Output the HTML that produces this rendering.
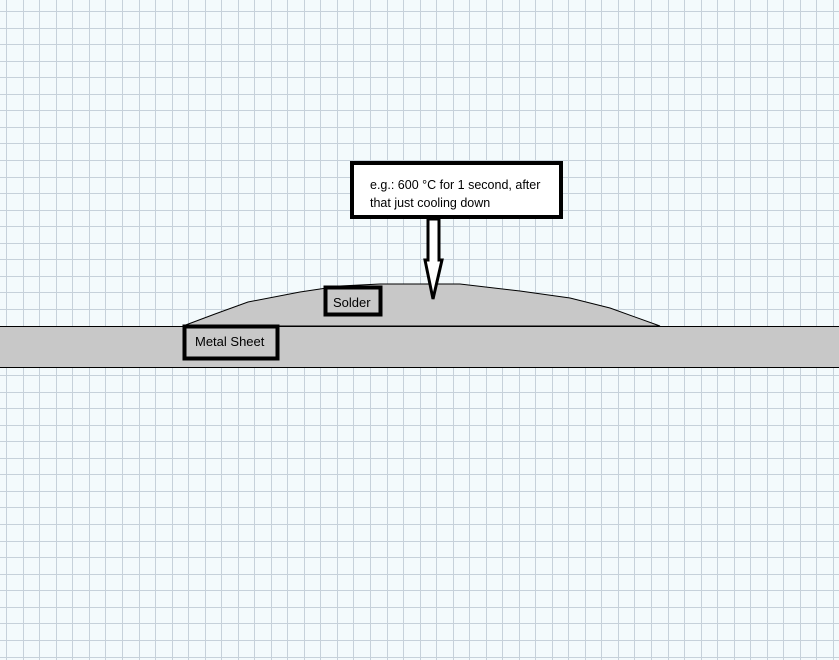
<!DOCTYPE html>
<html><head><style>
html,body{margin:0;padding:0;}
body{width:839px;height:660px;overflow:hidden;background:#f3fafc;position:relative;font-family:"Liberation Sans",sans-serif;}
svg{position:absolute;left:0;top:0;}
</style></head><body>
<svg width="839" height="660" viewBox="0 0 839 660">
<g stroke="#c6d1da" stroke-width="1" fill="none">
<path d="M6.5 0V660M23.5 0V660M39.5 0V660M56.5 0V660M72.5 0V660M89.5 0V660M105.5 0V660M122.5 0V660M139.5 0V660M155.5 0V660M172.5 0V660M188.5 0V660M205.5 0V660M221.5 0V660M238.5 0V660M254.5 0V660M271.5 0V660M287.5 0V660M304.5 0V660M320.5 0V660M337.5 0V660M353.5 0V660M370.5 0V660M387.5 0V660M403.5 0V660M420.5 0V660M436.5 0V660M453.5 0V660M469.5 0V660M486.5 0V660M502.5 0V660M519.5 0V660M535.5 0V660M552.5 0V660M568.5 0V660M585.5 0V660M601.5 0V660M618.5 0V660M634.5 0V660M651.5 0V660M668.5 0V660M684.5 0V660M701.5 0V660M717.5 0V660M734.5 0V660M750.5 0V660M767.5 0V660M783.5 0V660M800.5 0V660M816.5 0V660M833.5 0V660"/>
<path d="M0 11.5H839M0 28.5H839M0 44.5H839M0 61.5H839M0 77.5H839M0 94.5H839M0 110.5H839M0 127.5H839M0 143.5H839M0 160.5H839M0 177.5H839M0 193.5H839M0 210.5H839M0 226.5H839M0 243.5H839M0 259.5H839M0 276.5H839M0 292.5H839M0 309.5H839M0 342.5H839M0 375.5H839M0 392.5H839M0 408.5H839M0 425.5H839M0 441.5H839M0 458.5H839M0 474.5H839M0 491.5H839M0 507.5H839M0 524.5H839M0 541.5H839M0 557.5H839M0 574.5H839M0 590.5H839M0 607.5H839M0 623.5H839M0 640.5H839M0 657.5H839"/>
</g>
<rect x="0" y="326" width="839" height="41" fill="#c8c8c8"/>
<line x1="0" y1="326.5" x2="839" y2="326.5" stroke="#000" stroke-width="1"/>
<line x1="0" y1="367.5" x2="839" y2="367.5" stroke="#000" stroke-width="1"/>
<path d="M183 326 L215 314 L248 302 L300 292 L340 286 L380 284 L460 284 L520 291 L570 298 L610 308 L660 326 Z" fill="#c8c8c8" stroke="#000" stroke-width="1"/>
<line x1="183" y1="326.5" x2="660" y2="326.5" stroke="#000" stroke-width="1"/>
<rect x="184.5" y="326.5" width="93" height="32" fill="#c8c8c8" stroke="#000" stroke-width="4"/>
<text x="195" y="346" font-size="13" font-family="Liberation Sans,sans-serif" fill="#000">Metal Sheet</text>
<rect x="325.5" y="287.5" width="55" height="27" fill="#c8c8c8" stroke="#000" stroke-width="4"/>
<text x="333" y="307" font-size="13" font-family="Liberation Sans,sans-serif" fill="#000">Solder</text>
<rect x="352" y="163" width="209" height="54" fill="#fff" stroke="#000" stroke-width="4"/>
<text x="370" y="189" font-size="12.5" font-family="Liberation Sans,sans-serif" fill="#000">e.g.: 600 °C for 1 second, after</text>
<text x="370" y="207" font-size="12.5" font-family="Liberation Sans,sans-serif" fill="#000">that just cooling down</text>
<path d="M428 219 L428 260 L425 260 L433 299 L442 260 L439 260 L439 219 Z" fill="#fff" stroke="#000" stroke-width="3" stroke-linejoin="miter"/>
</svg>
</body></html>
